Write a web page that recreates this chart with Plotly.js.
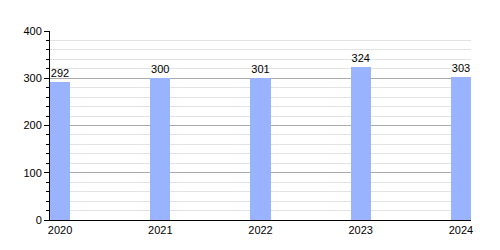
<!DOCTYPE html>
<html><head><meta charset="utf-8">
<script src="https://cdn.plot.ly/plotly-3.0.1.min.js"></script>
<style>html,body{margin:0;padding:0;background:#fff}#c{width:500px;height:250px}</style>
</head><body><div id="c"></div>
<script>
const years = ["2020","2021","2022","2023","2024"];
const values = [292, 300, 301, 324, 303];
const yTicks = [0, 100, 200, 300, 400];

Plotly.newPlot('c', [{
  type: 'bar',
  x: years,
  y: values,
  width: 0.2,
  marker: {color: '#99b3ff'},
  text: values.map(String),
  textposition: 'outside',
  cliponaxis: false,
  textfont: {family: 'Liberation Sans, Arial, sans-serif', size: 11, color: '#000'},
  hoverinfo: 'none'
}], {
  width: 500, height: 250,
  margin: {l: 50, r: 29, t: 31, b: 30, pad: 0},
  paper_bgcolor: '#fff', plot_bgcolor: '#fff',
  showlegend: false,
  font: {family: 'Liberation Sans, Arial, sans-serif', size: 11, color: '#000'},
  xaxis: {
    type: 'category', range: [-0.1, 4.1],
    showgrid: false, showline: true, linecolor: '#000', linewidth: 1,
    ticks: '', tickfont: {size: 11}, fixedrange: true
  },
  yaxis: {
    range: [0, 400], tickvals: yTicks, ticktext: yTicks.map(String),
    showgrid: true, gridcolor: '#aaaaaa', gridwidth: 1,
    showline: true, linecolor: '#000', linewidth: 1,
    ticks: 'outside', ticklen: 5, tickcolor: '#000', zeroline: false,
    minor: {dtick: 20, showgrid: true, gridcolor: '#e3e3e3', ticks: 'outside', ticklen: 3, tickcolor: '#000'},
    fixedrange: true
  },
  bargap: 0
}, {displayModeBar: false, staticPlot: true});
</script></body></html>
